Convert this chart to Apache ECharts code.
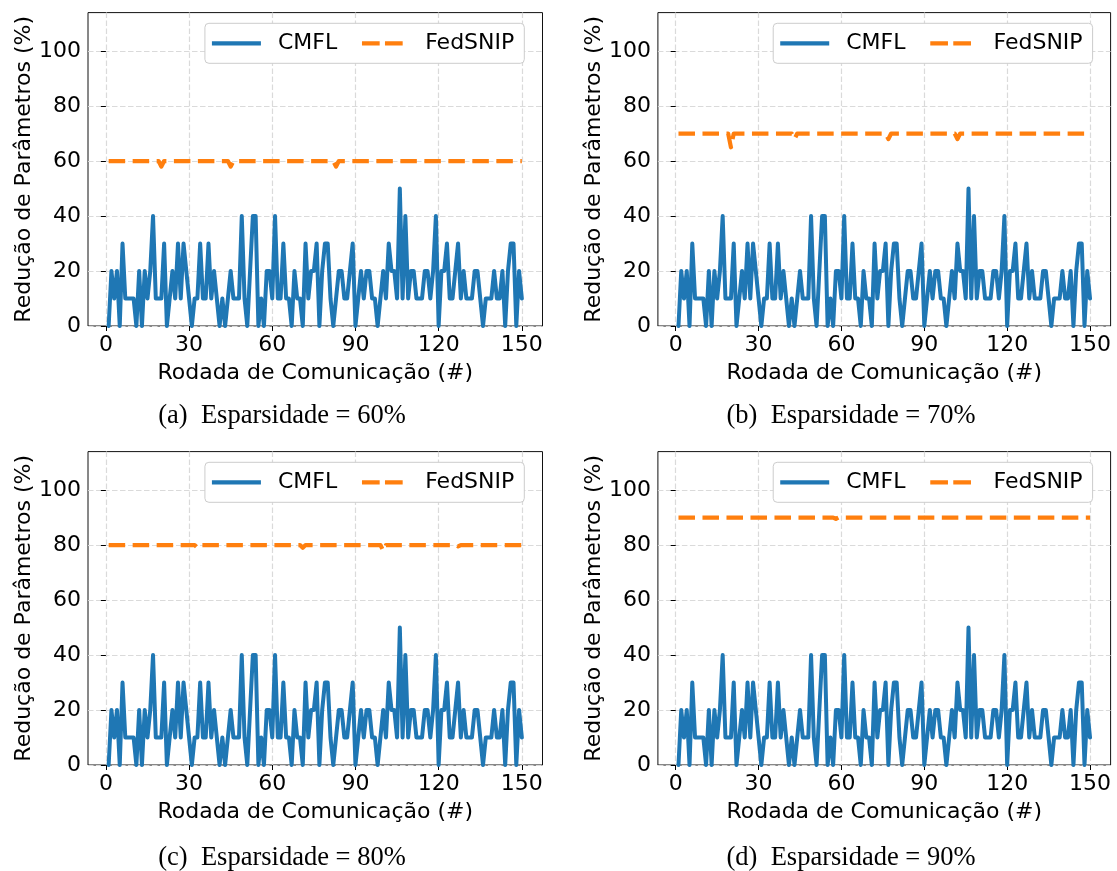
<!DOCTYPE html>
<html><head><meta charset="utf-8">
<script src="https://cdn.jsdelivr.net/npm/echarts@6/dist/echarts.min.js"></script>
<style>html,body{margin:0;padding:0;background:#fff}#c{width:1117px;height:871px}</style>
</head><body><div id="c"></div>
<script>
// ---- data ----
const cmfl = [0,20,10,20,0,30,10,10,10,10, 0,20,0,20,10,20,40,10,10,10,
  30,0,10,20,10,30,10,30,20,10, 0,10,10,30,10,10,30,10,20,10,
  0,10,0,10,20,10,10,10,40,10, 0,20,40,40,0,10,0,20,20,10,
  40,10,10,30,10,10,0,20,10,10, 0,30,10,20,20,30,0,20,30,30,
  10,0,10,20,20,10,10,20,30,0, 10,20,10,20,20,10,10,0,10,20,
  10,30,20,20,10,50,10,40,10,20, 20,10,10,10,20,20,10,20,40,0,
  20,20,30,10,10,20,30,10,20,10, 10,10,20,20,10,0,10,10,10,20,
  10,10,20,0,20,30,30,0,20,10];
const fedsnip60 = [
  60,60,60,60,60,60,60,60,60,60,
  60,60,60,60,60,60,60,60,60,58,
  60,60,60,60,60,60,60,60,60,60,
  60,60,60,60,60,60,60,60,60,60,
  60,60,60,60,58,60,60,60,60,60,
  60,60,60,60,60,60,60,60,60,60,
  60,60,60,60,60,60,60,60,60,60,
  60,60,60,60,60,60,60,60,60,60,
  60,60,58,60,60,60,60,60,60,60,
  60,60,60,60,60,60,60,60,60,60,
  60,60,60,60,60,60,60,60,60,60,
  60,60,60,60,60,60,60,60,60,60,
  60,60,60,60,60,60,60,60,60,60,
  60,60,60,60,60,60,60,60,60,60,
  60,60,60,60,60,60,60,60,60,60];
const fedsnip70 = [
  70,70,70,70,70,70,70,70,70,70,
  70,70,70,70,70,70,70,70,70,65,
  70,70,70,70,70,70,70,70,70,70,
  70,70,70,70,70,70,70,70,70,70,
  70,70,68,70,70,70,70,70,70,70,
  70,70,70,70,70,70,70,70,70,70,
  70,70,70,70,70,70,70,70,70,70,
  70,70,70,70,70,70,68,70,70,70,
  70,70,70,70,70,70,70,70,70,70,
  70,70,70,70,70,70,70,70,70,70,
  70,68,70,70,70,70,70,70,70,70,
  70,70,70,70,70,70,70,70,70,70,
  70,70,70,70,70,70,70,70,70,70,
  70,70,70,70,70,70,70,70,70,70,
  70,70,70,70,70,70,70,70,70,70];
const fedsnip80 = [
  80,80,80,80,80,80,80,80,80,80,
  80,80,80,80,80,80,80,80,80,80,
  80,80,80,80,80,80,80,80,80,80,
  80,80,79,80,80,80,80,80,80,80,
  80,80,80,80,80,80,80,80,80,80,
  80,80,80,80,80,80,80,80,80,80,
  80,80,80,80,80,80,80,80,80,80,
  79,80,80,80,80,80,80,80,80,80,
  80,80,80,80,80,80,80,80,80,80,
  80,80,80,80,80,80,80,80,80,78,
  80,80,80,80,80,80,80,80,80,80,
  80,80,80,80,80,80,80,80,80,80,
  80,80,80,80,80,80,79.5,80,80,80,
  80,80,80,80,80,80,80,80,80,80,
  80,80,80,80,80,80,80,80,80,80];
const fedsnip90 = [
  90,90,90,90,90,90,90,90,90,90,
  90,90,90,90,90,90,90,90,90,90,
  90,90,90,90,90,90,90,90,90,90,
  90,90,90,90,90,90,90,90,90,90,
  90,90,90,90,90,90,90,90,90,90,
  90,90,90,90,90,90,90,89.5,90,90,
  90,90,90,90,90,90,90,90,90,90,
  90,90,90,90,90,90,90,90,90,90,
  90,90,90,90,90,90,90,90,90,90,
  90,90,90,90,90,90,90,90,90,90,
  90,90,90,90,90,90,90,90,90,90,
  90,90,90,90,90,90,90,90,90,90,
  90,90,90,90,90,90,90,90,90,90,
  90,90,90,90,90,90,90,90,90,90,
  90,90,90,90,90,90,90,90,90,90];
const rounds = cmfl.map((_, i) => i + 1);
const xTicks = [0, 30, 60, 90, 120, 150];
const yTicks = [0, 20, 40, 60, 80, 100];
const seriesNames = ['CMFL', 'FedSNIP'];
const captions = ['(a)\u2002Esparsidade = 60%', '(b)\u2002Esparsidade = 70%', '(c)\u2002Esparsidade = 80%', '(d)\u2002Esparsidade = 90%'];
const xLabel = 'Rodada de Comunicação (#)';
const yLabel = 'Redução de Parâmetros (%)';
const fedsnipAll = [fedsnip60, fedsnip70, fedsnip80, fedsnip90];

// ---- layout ----
const W = 1117;
const panels = [
  {left: 88, top: 12.6, width: 454.5, height: 313.4, cx: 282, cy: 416, legRight: 524.3},
  {left: 657.9, top: 12.6, width: 452.7, height: 313.4, cx: 851, cy: 416, legRight: 1092.6},
  {left: 88, top: 451.6, width: 454.5, height: 313.4, cx: 282, cy: 858, legRight: 524.3},
  {left: 657.9, top: 451.6, width: 452.7, height: 313.4, cx: 851, cy: 858, legRight: 1092.6}
];
const FONT = 'DejaVu Sans';
const solidIcon = 'path://M0,0h49v4.2h-49z';
const dashIcon = 'path://M0,2.1L0,2.1001 M2.8,0h17.7v4.2h-17.7z M25.8,0h17.7v4.2h-17.7z M49,2.1L49,2.1001';
const grids = [], xAxes = [], yAxes = [], series = [], legends = [], graphics = [];
panels.forEach((p, i) => {
  grids.push({left: p.left, top: p.top, width: p.width, height: p.height, show: true,
    borderColor: '#111', borderWidth: 1, backgroundColor: 'transparent', containLabel: false});
  xAxes.push({gridIndex: i, type: 'value', min: -6.45, max: 157.45,
    axisLine: {show: false},
    axisTick: {show: true, customValues: xTicks, length: 5, lineStyle: {color: '#000', width: 1}},
    axisLabel: {customValues: xTicks, fontSize: 22, color: '#000', fontFamily: FONT, margin: 8},
    splitLine: {show: true, lineStyle: {color: '#dadada', width: 1.2, type: [5.5, 2.5]}},
    name: xLabel, nameLocation: 'middle', nameGap: 36,
    nameTextStyle: {fontSize: 22, color: '#000', fontFamily: FONT}});
  yAxes.push({gridIndex: i, type: 'value', min: 0, max: 114,
    axisLine: {show: false},
    axisTick: {show: true, customValues: yTicks, length: 5, lineStyle: {color: '#000', width: 1}},
    axisLabel: {customValues: yTicks, fontSize: 22, color: '#000', fontFamily: FONT, margin: 7},
    splitLine: {show: true, lineStyle: {color: '#dadada', width: 1.2, type: [5.5, 2.5]}},
    name: yLabel, nameLocation: 'middle', nameGap: 42, nameRotate: 90,
    nameTextStyle: {fontSize: 22, color: '#000', fontFamily: FONT}});
  series.push({type: 'line', name: seriesNames[0], xAxisIndex: i, yAxisIndex: i,
    data: rounds.map((r, k) => [r, cmfl[k]]), symbol: 'none', showSymbol: false,
    lineStyle: {color: '#1f77b4', width: 4, join: 'round', cap: 'round'}, itemStyle: {color: '#1f77b4'}, z: 3});
  series.push({type: 'line', name: seriesNames[1], xAxisIndex: i, yAxisIndex: i,
    data: rounds.map((r, k) => [r, fedsnipAll[i][k]]), symbol: 'none', showSymbol: false,
    lineStyle: {color: '#ff7f0e', width: 4.2, type: [16.5, 7.5], join: 'round', cap: 'butt'}, itemStyle: {color: '#ff7f0e'}, z: 4});
  legends.push({right: W - p.legRight, top: p.top + 10.7, orient: 'horizontal',
    data: [{name: seriesNames[0], icon: solidIcon}, {name: seriesNames[1], icon: dashIcon}],
    itemWidth: 49, itemHeight: 4.2, itemGap: 22, selectedMode: false,
    itemStyle: {borderWidth: 0}, lineStyle: {width: 0},
    textStyle: {fontSize: 22, color: '#000', fontFamily: FONT, padding: [0, 0, 0, 12]},
    borderColor: '#cccccc', borderWidth: 1, borderRadius: 4, padding: [9, 10, 9, 7], backgroundColor: '#fff'});
  graphics.push({type: 'text', x: p.cx, y: p.cy, style: {text: captions[i], fontSize: 26.5,
    fontFamily: 'Liberation Serif', fill: '#000', align: 'center', verticalAlign: 'middle'}});
});
const chart = echarts.init(document.getElementById('c'), null, {renderer: 'canvas'});
chart.setOption({animation: false, backgroundColor: '#fff', grid: grids, xAxis: xAxes, yAxis: yAxes,
  series: series, legend: legends, graphic: graphics});
</script></body></html>
